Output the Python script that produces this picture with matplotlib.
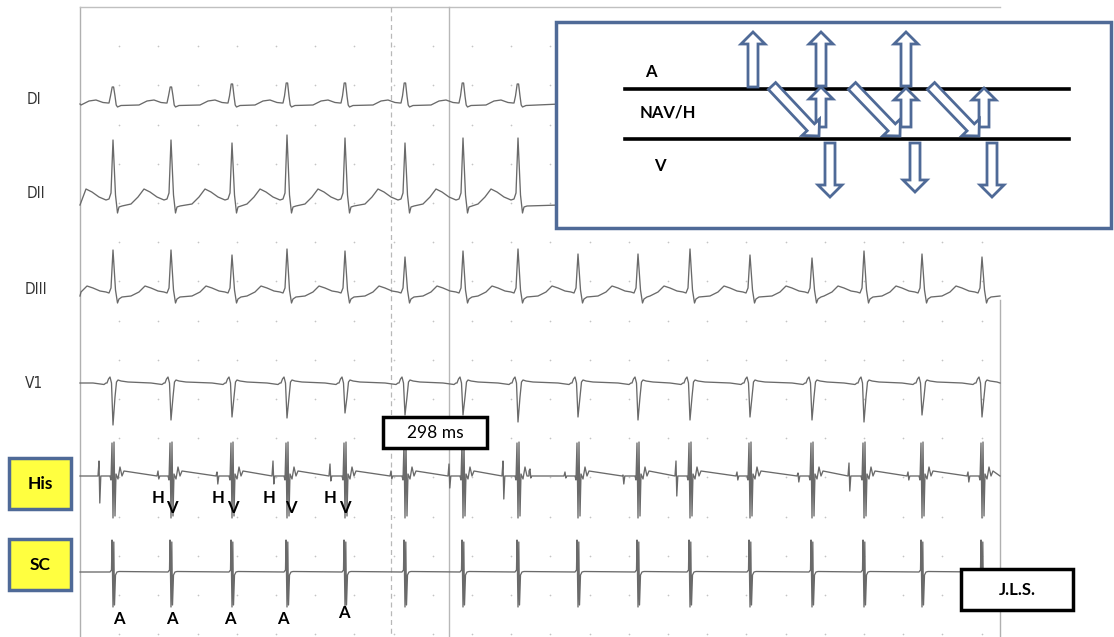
import numpy as np
import matplotlib
import matplotlib.pyplot as plt
from matplotlib.patches import Rectangle, FancyArrow

matplotlib.use("Agg")
plt.rcParams["font.family"] = ["Lato", "DejaVu Sans"]

# QRS instants along the paper (same for every channel)
qrs_x = [113, 171, 232, 287, 345, 405, 463, 518,
         578, 638, 690, 750, 812, 864, 922, 982]

# per beat amplitudes (px above baseline, negative = down)
di_r = [17, 17, 20, 21, 21, 21, 21, 20]
dii_r = [65, 65, 62, 70, 67, 62, 67, 67]
diii_r = [46, 46, 41, 47, 45, 39, 45, 47, 42, 42, 47, 41, 38, 45, 42, 39]
v1_s = [-42, -37, -34, -35, -30, -32, -32, -39,
        -34, -37, -37, -34, -37, -39, -32, -34]

# small atrial / His spikes on the His channel: position, up, down
his_spk_x = [99, 158, 217, 273, 330, 391, 449, 503, 530, 565,
             623, 676, 737, 798, 849, 908, 968]
his_spk_up = [15, 5, 4, 15, 12, 5, 12, 15, 7, 4, 1, 15, 4, 3, 13, 4, 4]
his_spk_dn = [27, 3, 8, 8, 5, 3, 12, 23, 2, 2, 8, 20, 4, 6, 15, 4, 6]

lead_names = ["DI", "DII", "DIII", "V1"]
h_labels_x = [158, 218, 269, 330]
v_labels_x = [172, 233, 291, 345]
a_labels_x = [119, 172, 230, 283, 344]

# wave shapes: (offset from R, amplitude); None -> the beat's own value
di_qrs = [(-4, 1), (-2.5, 8), (-0.8, None), (0.6, None), (2, 8), (3.2, -1),
          (4.5, -3), (8, -1.5)]
di_t = [(-32, -1), (-24, 3), (-17, 4), (-10, 1.5), (-5, 1)]
dii_qrs = [(-2, 12), (0, None), (2.5, 10), (4.5, -8), (6, -2), (9, -1)]
dii_t = [(-40, 1), (-33, 8), (-27, 16), (-21, 13), (-14, 8), (-7, 5), (-4, 6)]
diii_qrs = [(-2, 8), (0, None), (2.5, 6), (4.5, -7), (6, -3), (9, -1)]
diii_t = [(-40, 0), (-32, 4), (-26, 10), (-20, 8), (-13, 5), (-7, 4), (-4, 3)]
v1_qrs = [(-6, 0), (-4.5, 4), (-3, 6), (-1.5, 0), (0, None), (2, -14),
          (3.5, 1), (5, 3), (8, 2), (15, 1)]
v1_t = [(-20, 0), (-9, -1.5), (-7, 0)]
his_v = [(-3, 0), (-2, -4), (-1, 33), (0, -42), (1, 34), (2, -40), (3, 2),
         (5, -3), (7, 9), (9, 0), (11, 5)]
sc_a = [(-3, 0), (-1.5, 2), (-1, 32), (0, -35), (0.8, 30), (1.5, -33),
        (2.5, -3), (4, 0), (6, 0.5)]


def build(beats, peaks, qrs, tw, start=80, end=1000):
    xs, ys = [start], [0.0]
    for r, p in zip(beats, peaks):
        for dx, a in list(tw) + list(qrs):
            x = r + dx
            if start < x < end and x > xs[-1]:
                xs.append(x)
                ys.append(p if a is None else a)
    xs.append(end)
    ys.append(0.0)
    return np.array(xs), np.array(ys)


fig = plt.figure(figsize=(11.14, 6.37), dpi=100)
ax = fig.add_axes([0, 0, 1, 1])
ax.set_xlim(0, 1114)
ax.set_ylim(637, 0)
ax.axis("off")

# paper: dotted 1 cm grid + frame
gx, gy = np.meshgrid(80 + 39.2 * np.arange(1, 24), 7 + 39.2 * np.arange(1, 17))
ax.scatter(gx.ravel(), gy.ravel(), s=1.5, color="#c4c4c4", lw=0, zorder=1)
ax.plot([80, 80], [7, 637], color="#b0b0b0", lw=1)
ax.plot([80, 1000], [7, 7], color="#c0c0c0", lw=1)
ax.plot([1000, 1000], [300, 637], color="#b0b0b0", lw=1)
ax.plot([449, 449], [7, 637], color="#b8b8b8", lw=1)
ax.plot([391, 391], [7, 637], color="#b8b8b8", lw=0.9, ls=(0, (4, 3)))

trace = dict(color="#6a6a6a", lw=0.95, zorder=2)
x, y = build(qrs_x[:8], di_r, di_qrs, di_t, end=560)
ax.plot(x, 104 - y, **trace)
x, y = build(qrs_x[:8], dii_r, dii_qrs, dii_t, end=560)
ax.plot(x, 205 - y, **trace)
x, y = build(qrs_x, diii_r, diii_qrs, diii_t)
ax.plot(x, 296 - y, **trace)
x, y = build(qrs_x, v1_s, v1_qrs, v1_t)
ax.plot(x, 383 - y, **trace)

# His channel: ventricular complexes + small spikes merged
pts = [(80, 0), (1000, 0)]
for r in qrs_x:
    pts += [(r + dx, a) for dx, a in his_v]
for s, u, d in zip(his_spk_x, his_spk_up, his_spk_dn):
    pts += [(s - 1, 0), (s, u), (s + 0.8, -d), (s + 1.8, 0)]
pts.sort()
ax.plot([p[0] for p in pts], [476 - p[1] for p in pts], **trace)

x, y = build(qrs_x, [None] * len(qrs_x), sc_a, [])
ax.plot(x, 572 - y, **trace)

for name, yy, xx in zip(lead_names, [100, 193, 289, 383], [34, 36, 36, 34]):
    ax.text(xx, yy, name, ha="center", va="center", fontsize=11,
            color="#333333", family="DejaVu Sans", fontstretch="condensed")

slate = "#4F6A97"
for yb, lab in [(458, "His"), (539, "SC")]:
    ax.add_patch(Rectangle((9, yb), 62, 51, fc="#FFFF40", ec=slate, lw=2.5,
                           zorder=6))
    ax.text(40, yb + 26, lab, ha="center", va="center", fontsize=12.5,
            fontweight="bold", zorder=7)

for hx in h_labels_x:
    ax.text(hx, 498, "H", ha="center", va="center", fontsize=12,
            fontweight="bold", zorder=7)
for vx in v_labels_x:
    ax.text(vx, 508, "V", ha="center", va="center", fontsize=12,
            fontweight="bold", zorder=7)
for i, axx in enumerate(a_labels_x):
    ax.text(axx, 613 if i == 4 else 619, "A", ha="center", va="center",
            fontsize=12, fontweight="bold", zorder=7)

ax.add_patch(Rectangle((383, 417), 104, 31, fc="white", ec="black", lw=2.5,
                       zorder=6))
ax.text(435, 433, "298 ms", ha="center", va="center", fontsize=12.5, zorder=7)
ax.add_patch(Rectangle((961, 569), 112, 41, fc="white", ec="black", lw=2.5,
                       zorder=6))
ax.text(1017, 590, "J.L.S.", ha="center", va="center", fontsize=12,
        fontweight="bold", zorder=7)

# ladder diagram inset
ax.add_patch(Rectangle((556, 22), 555, 206, fc="white", ec=slate, lw=2.5,
                       zorder=8))
for yl in [89, 139]:
    ax.plot([625, 1069], [yl, yl], color="black", lw=2.6, zorder=9)
ax.text(651, 72, "A", ha="center", va="center", fontsize=12,
        fontweight="bold", zorder=9)
ax.text(668, 113, "NAV/H", ha="center", va="center", fontsize=12,
        fontweight="bold", zorder=9)
ax.text(660, 166, "V", ha="center", va="center", fontsize=12,
        fontweight="bold", zorder=9)

ladder_arrows = [
    (753, 87, 753, 32), (821, 86, 821, 32), (906, 86, 906, 32),
    (821, 127, 821, 87), (906, 127, 906, 88), (984, 127, 984, 88),
    (830, 143, 830, 197), (915, 143, 915, 192), (992, 143, 992, 197),
    (772, 86, 819, 136), (852, 86, 900, 136), (931, 86, 979, 136),
]
for x0, y0, x1, y1 in ladder_arrows:
    ax.add_patch(FancyArrow(x0, y0, x1 - x0, y1 - y0, width=10, head_width=24,
                            head_length=12, length_includes_head=True,
                            fc="white", ec=slate, lw=2, zorder=10))

fig.savefig("out.png", dpi=100)
plt.close(fig)
